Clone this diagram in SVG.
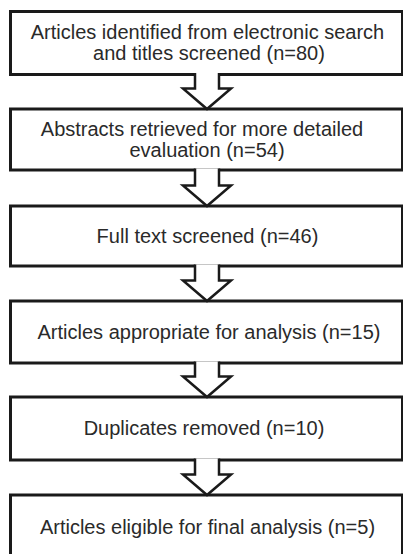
<svg xmlns="http://www.w3.org/2000/svg" width="403" height="554" viewBox="0 0 403 554">
<style>
.box{fill:#fff;stroke:#1a1a1a;stroke-width:3}
.arr{fill:#fff;stroke:#1a1a1a;stroke-width:2.5;stroke-linejoin:miter}
.t{font-family:"Liberation Sans",Arial,sans-serif;font-size:20px;fill:#2a2a2a;text-anchor:middle}
</style>
<rect width="403" height="554" fill="#fff"/>
<g id="n1"><rect class="box" x="10.5" y="11.5" width="392" height="63"/>
<text class="t" x="207.5" y="38.5">Articles identified from electronic search</text>
<text class="t" x="209" y="60">and titles screened (n=80)</text></g>
<g id="n2"><rect class="box" x="10.5" y="109" width="392" height="61"/>
<text class="t" x="202" y="135.5">Abstracts retrieved for more detailed</text>
<text class="t" x="207" y="156.5">evaluation (n=54)</text></g>
<g id="n3"><rect class="box" x="10.5" y="206" width="392" height="60"/>
<text class="t" x="207.5" y="242.5">Full text screened (n=46)</text></g>
<g id="n4"><rect class="box" x="10.5" y="301" width="392" height="62"/>
<text class="t" x="209" y="338.5">Articles appropriate for analysis (n=15)</text></g>
<g id="n5"><rect class="box" x="10.5" y="397" width="392" height="63"/>
<text class="t" x="204" y="435">Duplicates removed (n=10)</text></g>
<g id="n6"><rect class="box" x="10.5" y="495" width="392" height="70"/>
<text class="t" x="207.5" y="534">Articles eligible for final analysis (n=5)</text></g>
<g id="connectors">
<path class="arr" d="M195,73 V88.5 H183 L207,109 L231,88.5 H219 V73"/>
<path class="arr" d="M195,168.5 V185.5 H183 L207,206 L231,185.5 H219 V168.5"/>
<path class="arr" d="M195,264.5 V280.5 H183 L207,301 L231,280.5 H219 V264.5"/>
<path class="arr" d="M195,361.5 V376.5 H183 L207,397 L231,376.5 H219 V361.5"/>
<path class="arr" d="M195,458.5 V474.5 H183 L207,495 L231,474.5 H219 V458.5"/>
</g>
</svg>
